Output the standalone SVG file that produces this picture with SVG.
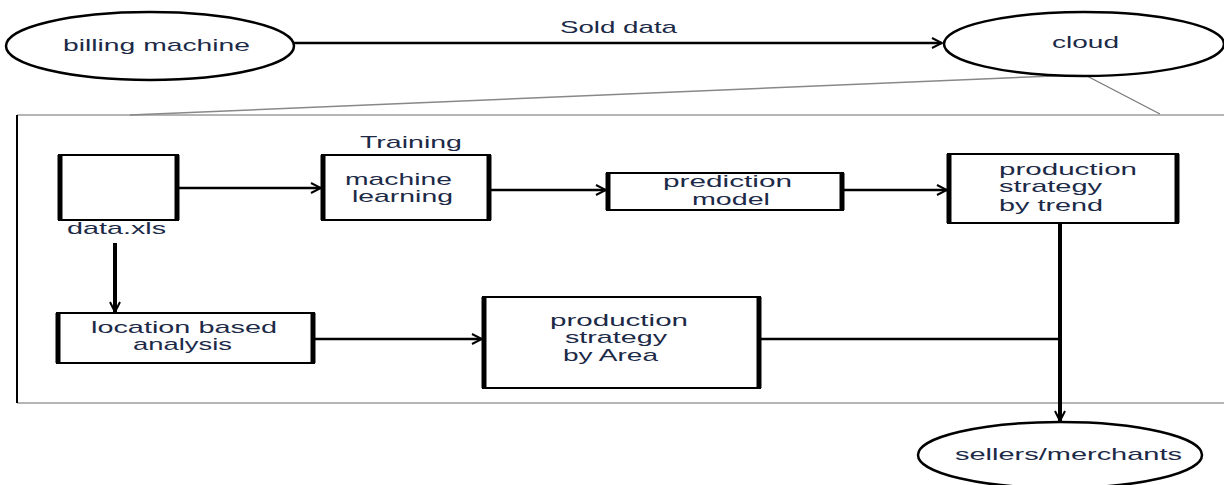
<svg xmlns="http://www.w3.org/2000/svg" width="1224" height="485" viewBox="0 0 1224 485">
<defs>
<style>
.t{font-family:"Liberation Sans",Arial,sans-serif;font-size:17px;fill:#1c2a48}
.ell{fill:#fff;stroke:#000;stroke-width:2.5}
.box{fill:#fff;stroke:#000;stroke-width:2}
.side{stroke:#000;stroke-width:5}
.con{fill:none;stroke:#000;stroke-width:2.5}
.thick{fill:none;stroke:#000;stroke-width:4}
.frame{fill:none;stroke:#b5b5b5;stroke-width:2}
</style>
<marker id="ah" viewBox="0 0 12 12" refX="11" refY="6" markerWidth="12" markerHeight="12" markerUnits="userSpaceOnUse" orient="auto">
<path d="M1,1 L11,6 L1,11" fill="none" stroke="#000" stroke-width="2"/>
</marker>
</defs>
<rect width="1224" height="485" fill="#fff"/>

<g id="frame">
<line x1="17" y1="115" x2="1230" y2="115" class="frame"/>
<line x1="17" y1="403" x2="1230" y2="403" class="frame"/>
<line x1="17" y1="115" x2="17" y2="403" stroke="#000" stroke-width="2"/>
<line x1="130" y1="115" x2="1077" y2="75" stroke="#888" stroke-width="1.5"/>
<line x1="1085" y1="75" x2="1160" y2="114" stroke="#777" stroke-width="1.2"/>
</g>

<g id="connectors">
<line x1="293" y1="43" x2="942" y2="43" class="con" marker-end="url(#ah)"/>
<text x="560" y="33" class="t" textLength="117" lengthAdjust="spacingAndGlyphs">Sold data</text>
<line x1="178" y1="188" x2="321" y2="188" class="con" marker-end="url(#ah)"/>
<line x1="490" y1="190" x2="606" y2="190" class="con" marker-end="url(#ah)"/>
<line x1="843" y1="190" x2="947" y2="190" class="con" marker-end="url(#ah)"/>
<line x1="115" y1="243" x2="115" y2="312" class="thick" marker-end="url(#ah)"/>
<line x1="314" y1="339" x2="482" y2="339" class="con" marker-end="url(#ah)"/>
<line x1="760" y1="339" x2="1060" y2="339" class="con"/>
<line x1="1060" y1="224" x2="1060" y2="421" class="thick" marker-end="url(#ah)"/>
</g>

<g id="billing">
<ellipse cx="150" cy="46" rx="144" ry="34" class="ell"/>
<text x="63" y="51" class="t" textLength="187" lengthAdjust="spacingAndGlyphs">billing machine</text>
</g>

<g id="cloud">
<ellipse cx="1084" cy="44" rx="140" ry="32" class="ell"/>
<text x="1052" y="48" class="t" textLength="67" lengthAdjust="spacingAndGlyphs">cloud</text>
</g>

<g id="data">
<rect x="59" y="155" width="119" height="65" class="box"/>
<line x1="60" y1="155" x2="60" y2="220" class="side"/>
<line x1="177" y1="155" x2="177" y2="220" class="side"/>
<text x="67" y="234" class="t" textLength="99" lengthAdjust="spacingAndGlyphs">data.xls</text>
</g>

<g id="ml">
<text x="360" y="148" class="t" textLength="102" lengthAdjust="spacingAndGlyphs">Training</text>
<rect x="322" y="155" width="168" height="65" class="box"/>
<line x1="323" y1="155" x2="323" y2="220" class="side"/>
<line x1="489" y1="155" x2="489" y2="220" class="side"/>
<text x="345" y="185" class="t" textLength="107" lengthAdjust="spacingAndGlyphs">machine</text>
<text x="352" y="202" class="t" textLength="101" lengthAdjust="spacingAndGlyphs">learning</text>
</g>

<g id="prediction">
<rect x="607" y="173" width="236" height="37" class="box"/>
<line x1="608" y1="173" x2="608" y2="210" class="side"/>
<line x1="842" y1="173" x2="842" y2="210" class="side"/>
<text x="663" y="187" class="t" textLength="129" lengthAdjust="spacingAndGlyphs">prediction</text>
<text x="692" y="205" class="t" textLength="78" lengthAdjust="spacingAndGlyphs">model</text>
</g>

<g id="trend">
<rect x="948" y="154" width="230" height="69" class="box"/>
<line x1="949" y1="154" x2="949" y2="223" class="side"/>
<line x1="1177" y1="154" x2="1177" y2="223" class="side"/>
<text x="999" y="175" class="t" textLength="138" lengthAdjust="spacingAndGlyphs">production</text>
<text x="999" y="192" class="t" textLength="103" lengthAdjust="spacingAndGlyphs">strategy</text>
<text x="999" y="211" class="t" textLength="104" lengthAdjust="spacingAndGlyphs">by trend</text>
</g>

<g id="location">
<rect x="57" y="313" width="257" height="50" class="box"/>
<line x1="58" y1="313" x2="58" y2="363" class="side"/>
<line x1="313" y1="313" x2="313" y2="363" class="side"/>
<text x="91" y="333" class="t" textLength="186" lengthAdjust="spacingAndGlyphs">location based</text>
<text x="133" y="350" class="t" textLength="99" lengthAdjust="spacingAndGlyphs">analysis</text>
</g>

<g id="area">
<rect x="483" y="297" width="277" height="91" class="box"/>
<line x1="484" y1="297" x2="484" y2="388" class="side"/>
<line x1="759" y1="297" x2="759" y2="388" class="side"/>
<text x="550" y="326" class="t" textLength="138" lengthAdjust="spacingAndGlyphs">production</text>
<text x="565" y="343" class="t" textLength="102" lengthAdjust="spacingAndGlyphs">strategy</text>
<text x="563" y="361" class="t" textLength="95" lengthAdjust="spacingAndGlyphs">by Area</text>
</g>

<g id="sellers">
<ellipse cx="1060" cy="455" rx="142" ry="33" class="ell"/>
<text x="955" y="460" class="t" textLength="227" lengthAdjust="spacingAndGlyphs">sellers/merchants</text>
</g>
</svg>
